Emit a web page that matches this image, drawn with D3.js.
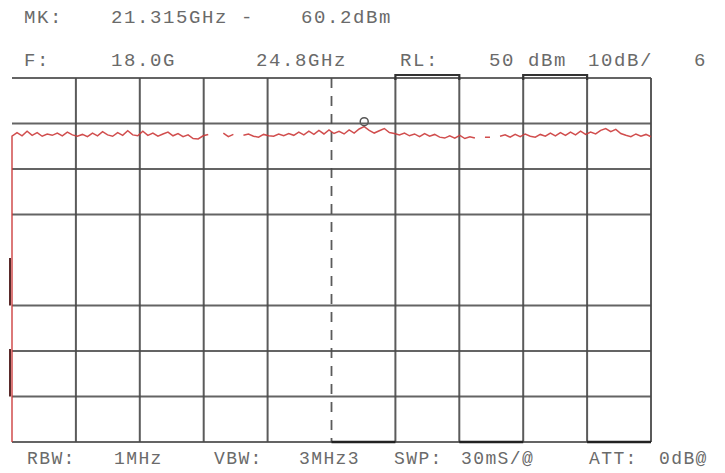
<!DOCTYPE html>
<html><head><meta charset="utf-8">
<script src="https://cdn.jsdelivr.net/npm/d3@7"></script>
<style>
html,body{margin:0;padding:0;background:#fff;}
svg text{font-family:"Liberation Mono","DejaVu Sans Mono",monospace;fill:#6a6a6a;font-size:19px;letter-spacing:1.6px;}
svg text.bot{font-size:18px;letter-spacing:1.4px;}
</style></head>
<body><svg id="c" width="725" height="473"></svg>
<script>
// Sweep settings
const startGHz = 18.0, stopGHz = 24.8;
const refLevel = 50, dbPerDiv = 10, nDivY = 8, nDivX = 10;
// Graticule levels actually visible (the 10 dBm line is missing in the photo)
const gridLevels = [50, 40, 30, 20, 0, -10, -20, -30];
// Trace levels (dBm), null = gap in the displayed trace
const traceLevels = [
 37.2,38.0,37.3,38.3,37.4,38.0,37.2,37.7,37.4,37.9,37.3,38.1,37.5,
 37.2,37.6,37.1,37.9,37.3,38.2,37.5,37.2,38.0,37.4,38.4,37.5,37.3,
 38.3,37.4,37.9,37.2,37.7,38.1,37.3,37.8,37.1,37.5,36.7,36.6,37.3,
 37.6,null,null,37.9,37.1,37.6,null,37.4,37.7,37.2,37.0,37.6,37.3,
 37.2,37.7,37.3,37.8,37.4,38.1,37.5,38.3,37.6,38.5,37.7,38.6,37.8,
 38.3,37.7,38.6,37.9,38.8,39.3,38.5,37.9,38.4,38.9,38.0,37.8,37.5,
 37.9,37.3,37.7,37.1,37.8,37.2,37.6,37.0,36.8,37.3,36.8,37.4,36.7,
 37.1,36.8,null,37.0,37.0,null,37.2,37.5,37.0,37.6,37.1,37.7,37.2,
 37.0,37.6,37.2,37.9,37.3,38.0,37.4,38.1,37.5,38.3,37.6,38.1,37.7,
 38.5,38.9,38.2,38.7,37.8,37.4,37.1,37.7,37.2,37.6,37.1
];
const markerIndex = 70;
// Header / footer texts
const row1 = [["MK:",24],["21.315GHz -",111],["60.2dBm",301]];
const row2 = [["F:",24],["18.0G",111],["24.8GHz",256],["RL:",400],["50",489],["dBm",528],["10dB/",588],["6",694]];
const row3 = [["RBW:",27],["1MHz",114],["VBW:",214],["3MHz3",299],["SWP:",394],["30mS/@",461],["ATT:",589],["0dB@",659]];

const svg = d3.select("#c");
const x = d3.scaleLinear().domain([startGHz, stopGHz]).range([12, 651]);
const y = d3.scaleLinear().domain([refLevel - dbPerDiv*nDivY, refLevel]).range([442, 78]);
const gridCol = "#4a4a4a";

// vertical graticule
const vFreqs = d3.range(nDivX + 1).map(i => startGHz + i*(stopGHz-startGHz)/nDivX);
svg.append("g").selectAll("line").data(vFreqs).join("line")
  .attr("x1", d => x(d)).attr("x2", d => x(d))
  .attr("y1", y(refLevel)).attr("y2", y(refLevel - dbPerDiv*nDivY))
  .attr("stroke", gridCol).attr("stroke-width", (d,i) => i===5 ? 1.8 : 2)
  .attr("stroke-dasharray", (d,i) => i===5 ? "10,8" : null)
  .attr("opacity", (d,i) => i===0 ? 0 : 0.9);

// horizontal graticule
svg.append("g").selectAll("line").data(gridLevels).join("line")
  .attr("x1", x(startGHz)).attr("x2", x(stopGHz))
  .attr("y1", d => y(d)).attr("y2", d => y(d))
  .attr("stroke", gridCol).attr("stroke-width", 2).attr("opacity", 0.85);

// darker frame segments (annotation brackets)
const topSeg = [[6,7],[8,9]], botSeg = [[5,6],[7,8],[9,10]];
svg.append("g").selectAll("path").data(topSeg).join("path")
  .attr("d", d => `M${x(vFreqs[d[0]])},${y(refLevel)+2}V${y(refLevel)-3}H${x(vFreqs[d[1]])}V${y(refLevel)+2}`)
  .attr("fill","none").attr("stroke","#333").attr("stroke-width",2.2);
svg.append("g").selectAll("line").data(botSeg).join("line")
  .attr("x1", d => x(vFreqs[d[0]])).attr("x2", d => x(vFreqs[d[1]]))
  .attr("y1", y(-30)).attr("y2", y(-30))
  .attr("stroke","#222").attr("stroke-width",2.6);
const leftSeg = [[10,0],[-10,-20]];
svg.append("g").selectAll("line").data(leftSeg).join("line")
  .attr("x1", x(startGHz)-2).attr("x2", x(startGHz)-2)
  .attr("y1", d => y(d[0])-2).attr("y2", d => y(d[1]))
  .attr("stroke","#5a2a2a").attr("stroke-width",2);

// trace
const pts = [{f:startGHz, v:refLevel - dbPerDiv*nDivY}]
  .concat(traceLevels.map((v,i) => ({f: startGHz + i*(stopGHz-startGHz)/(traceLevels.length-1), v})));
const line = d3.line().defined(d => d.v !== null).x(d => x(d.f)).y(d => y(d.v));
svg.append("path").datum(pts).attr("d", line)
  .attr("fill","none").attr("stroke","#cc3b3b").attr("stroke-width",1.5).attr("opacity",0.9);

// marker
const mk = pts[markerIndex+1];
svg.append("circle").attr("cx", x(mk.f)).attr("cy", y(mk.v)-5).attr("r",4)
  .attr("fill","none").attr("stroke","#555").attr("stroke-width",1.5);

// texts
function row(items, yy, cls){
  svg.append("g").selectAll("text").data(items).join("text")
    .attr("class", cls || null)
    .attr("x", d => d[1]).attr("y", yy).text(d => d[0]);
}
row(row1, 23);
row(row2, 66);
row(row3, 464, "bot");
</script></body></html>
